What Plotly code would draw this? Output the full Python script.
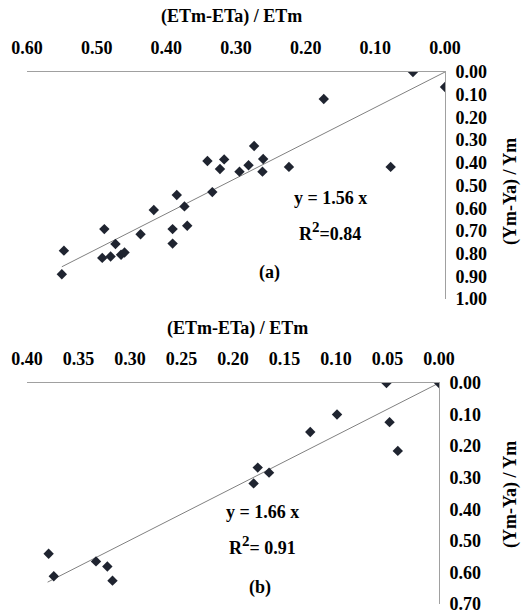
import plotly.graph_objects as go

# ---------------- data ----------------
# Panel (a)
a_x = [0.046, 0.000, 0.174, 0.547, 0.550, 0.489, 0.492, 0.480, 0.473, 0.465, 0.460,
       0.437, 0.418, 0.391, 0.391, 0.385, 0.374, 0.370, 0.341, 0.334, 0.323, 0.317,
       0.295, 0.282, 0.274, 0.262, 0.261, 0.224, 0.078]
a_y = [0.000, 0.066, 0.119, 0.787, 0.891, 0.692, 0.819, 0.813, 0.758, 0.805, 0.795,
       0.715, 0.608, 0.692, 0.756, 0.542, 0.592, 0.677, 0.392, 0.529, 0.427, 0.385,
       0.439, 0.411, 0.326, 0.439, 0.383, 0.418, 0.418]
a_slope = 1.56
a_xmax = 0.55
a_xticks = [0.60, 0.50, 0.40, 0.30, 0.20, 0.10, 0.00]
a_yticks = [0.00, 0.10, 0.20, 0.30, 0.40, 0.50, 0.60, 0.70, 0.80, 0.90, 1.00]

# Panel (b)
b_x = [0.051, 0.000, 0.379, 0.374, 0.333, 0.322, 0.317, 0.180, 0.176, 0.165,
       0.125, 0.099, 0.048, 0.040]
b_y = [0.000, 0.000, 0.541, 0.612, 0.565, 0.581, 0.626, 0.318, 0.268, 0.284,
       0.155, 0.100, 0.124, 0.215]
b_slope = 1.66
b_xmax = 0.38
b_xticks = [0.40, 0.35, 0.30, 0.25, 0.20, 0.15, 0.10, 0.05, 0.00]
b_yticks = [0.00, 0.10, 0.20, 0.30, 0.40, 0.50, 0.60, 0.70]

x_title = "(ETm-ETa) / ETm"
y_title = "(Ym-Ya) / Ym"

# ---------------- figure ----------------
W, H = 530, 615
FONT = "Liberation Serif"
FS = 18
MARK = "#1f2430"
LINE = "#808080"


def px(x):
    return x / W


def py(y):
    return 1 - y / H


fig = go.Figure()

for xs, ys, slope, xmax, xa, ya in [
    (a_x, a_y, a_slope, a_xmax, "x", "y"),
    (b_x, b_y, b_slope, b_xmax, "x2", "y2"),
]:
    fig.add_trace(go.Scatter(
        x=[0, xmax], y=[0, slope * xmax], mode="lines",
        line=dict(color=LINE, width=1), xaxis=xa, yaxis=ya,
        showlegend=False, hoverinfo="skip"))
    fig.add_trace(go.Scatter(
        x=xs, y=ys, mode="markers",
        marker=dict(symbol="diamond", size=8, color=MARK),
        xaxis=xa, yaxis=ya, showlegend=False))

axis_common = dict(
    showgrid=False, zeroline=False, showline=True, linecolor="#a0a0a0",
    linewidth=1, tickformat=".2f", automargin=False, tickmode="array",
    ticklabeloverflow="allow",
    tickfont=dict(family=FONT, size=FS, color="black", weight="bold"),
    ticks="outside", tickcolor="rgba(0,0,0,0)",
)

fig.update_layout(
    width=W, height=H,
    margin=dict(l=0, r=0, t=0, b=0, pad=0, autoexpand=False),
    paper_bgcolor="white", plot_bgcolor="white",
    font=dict(family=FONT, size=FS, color="black", weight="bold"),
    xaxis=dict(**axis_common, domain=[px(27), px(445)], range=[0.6, 0],
               tickvals=a_xticks, side="top", anchor="y", ticklen=10),
    yaxis=dict(**axis_common, domain=[py(299), py(72)], range=[1.0, 0],
               tickvals=a_yticks, side="right", anchor="x", ticklen=6),
    xaxis2=dict(**axis_common, domain=[px(27), px(439)], range=[0.4, 0],
                tickvals=b_xticks, side="top", anchor="y2", ticklen=10),
    yaxis2=dict(**axis_common, domain=[py(604), py(383)], range=[0.7, 0],
                tickvals=b_yticks, side="right", anchor="x2", ticklen=6),
)

SUP2 = "<sup><span style='font-size:15px'>2</span></sup>"
ann = [
    (x_title, 231, 17, 0),
    (y_title, 510, 192, -90),
    ("y = 1.56 x", 330, 198, 0),
    ("R" + SUP2 + "=0.84", 330, 232, 0),
    ("(a)", 269, 273, 0),
    (x_title, 237, 328, 0),
    (y_title, 510, 495, -90),
    ("y = 1.66 x", 262, 512, 0),
    ("R" + SUP2 + "= 0.91", 262, 545, 0),
    ("(b)", 260, 587, 0),
]
for text, xx, yy, ang in ann:
    fig.add_annotation(
        text=text, x=px(xx), y=py(yy), xref="paper", yref="paper",
        showarrow=False, textangle=ang, xanchor="center", yanchor="middle",
        font=dict(family=FONT, size=FS, color="black", weight="bold"))

fig.write_html(
    "out.html",
    config={"displayModeBar": False},
    post_script="document.body.style.margin='0';document.body.style.overflow='hidden';",
)
